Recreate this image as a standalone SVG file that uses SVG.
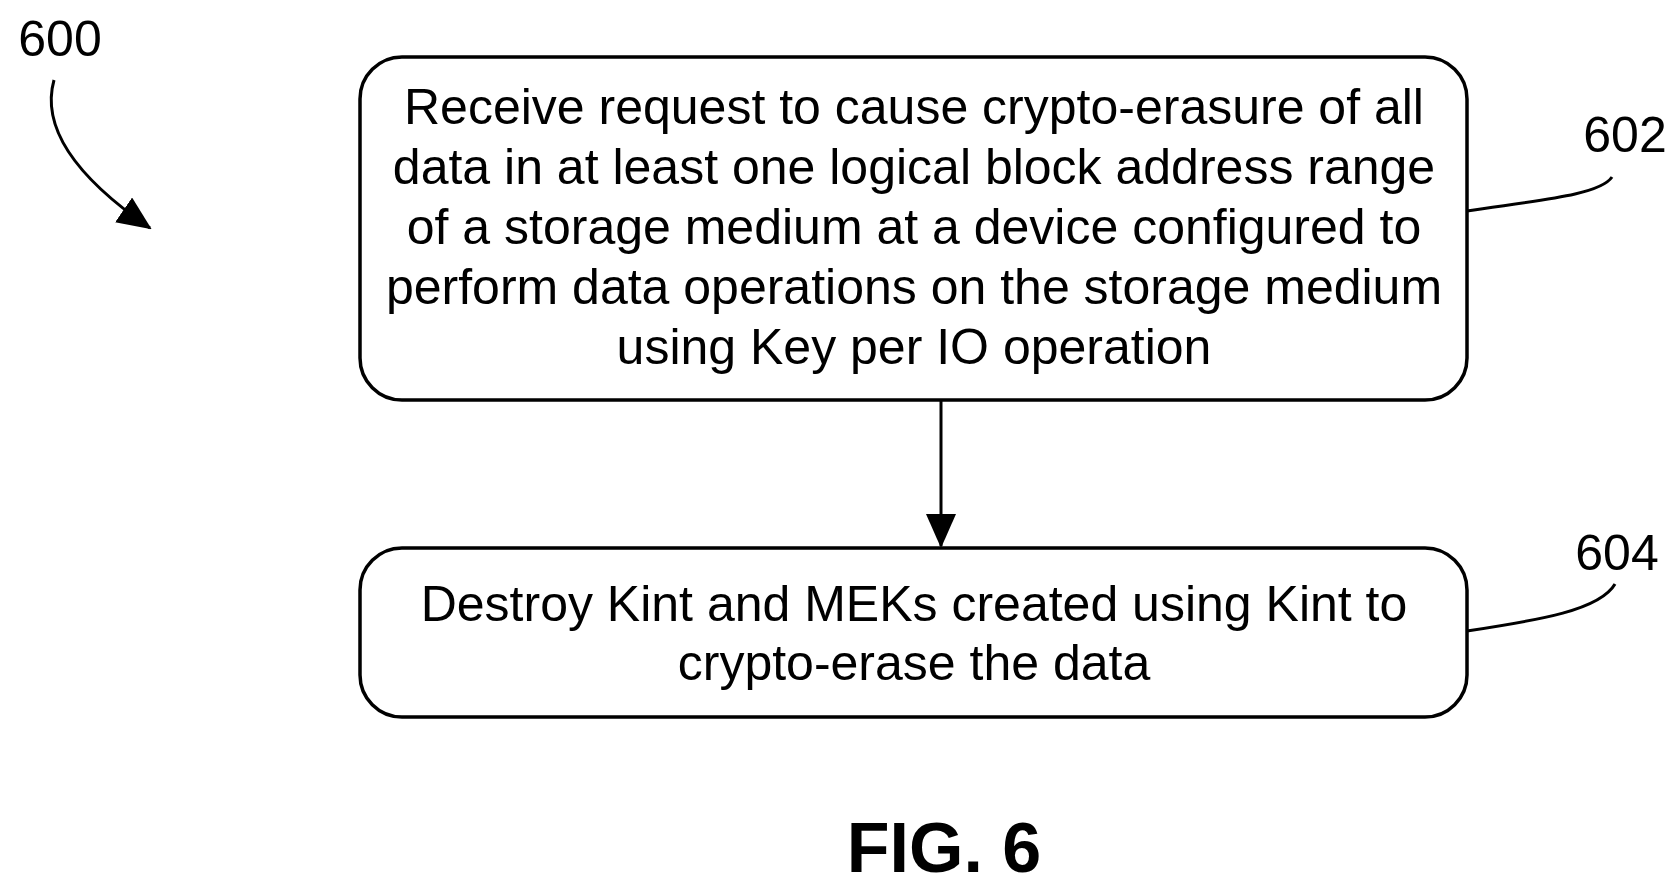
<svg xmlns="http://www.w3.org/2000/svg" width="1677" height="890" viewBox="0 0 1677 890">
<defs><marker id="ah2" markerWidth="34" markerHeight="30" refX="32" refY="15" orient="auto" markerUnits="userSpaceOnUse"><path d="M0,0 L34,15 L0,30 z" fill="#000"/></marker></defs>
<style>
.b{fill:#fff;stroke:#000;stroke-width:3.5}
.t{font-family:"Liberation Sans",Arial,sans-serif;font-size:50px;text-anchor:middle;fill:#000}
.l{fill:none;stroke:#000;stroke-width:3}
</style>
<rect width="1677" height="890" fill="#fff"/>
<g id="n602"><rect class="b" x="360" y="57" width="1107" height="343" rx="42"/>
<text class="t" x="914" y="124">Receive request to cause crypto-erasure of all</text>
<text class="t" x="914" y="184">data in at least one logical block address range</text>
<text class="t" x="914" y="244">of a storage medium at a device configured to</text>
<text class="t" x="914" y="304">perform data operations on the storage medium</text>
<text class="t" x="914" y="364">using Key per IO operation</text></g>
<g id="n604"><rect class="b" x="360" y="548" width="1107" height="169" rx="42"/>
<text class="t" x="914" y="621">Destroy Kint and MEKs created using Kint to</text>
<text class="t" x="914" y="680">crypto-erase the data</text></g>
<g id="labels">
<text class="t" x="60" y="56">600</text>
<text class="t" x="1625" y="152">602</text>
<text class="t" x="1617" y="570">604</text>
<text x="944" y="872" style="font-family:'Liberation Sans',Arial,sans-serif;font-size:70px;font-weight:bold;text-anchor:middle">FIG. 6</text>
</g>
<g id="connectors">
<line class="l" x1="941" y1="400" x2="941" y2="546" marker-end="url(#ah2)"/>
<path class="l" d="M1467,211 C1540,200 1600,195 1612,177"/>
<path class="l" d="M1467,631 C1540,620 1600,610 1615,584"/>
<path class="l" d="M54,80 C40,130 80,180 150,228" marker-end="url(#ah2)"/>
</g>
</svg>
